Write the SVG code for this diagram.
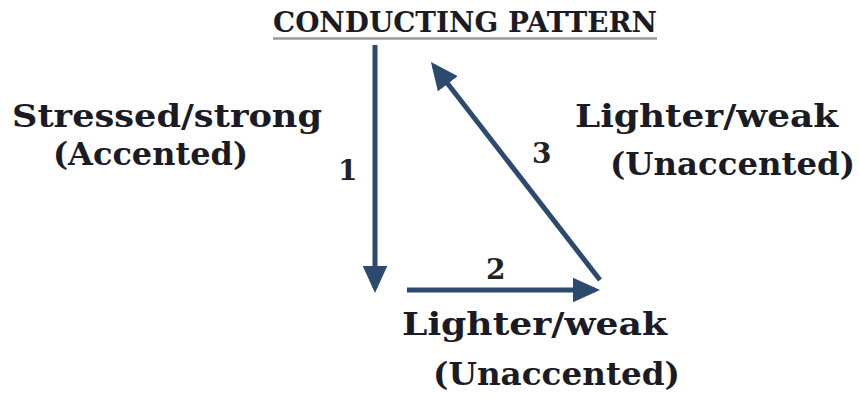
<svg xmlns="http://www.w3.org/2000/svg" width="859" height="396" viewBox="0 0 859 396">
<style>
.t{font-family:"DejaVu Serif","Liberation Serif",serif;font-weight:bold;fill:#1b1b26;}
.lbl{font-size:32px;}
.num{font-size:28px;font-family:"DejaVu Serif","Liberation Serif",serif;font-weight:bold;fill:#222;}
.ar{stroke:#2c4a6e;stroke-width:5;fill:none;}
</style>
<defs>
<marker id="ah" markerWidth="5.5" markerHeight="5" refX="4.5" refY="2.5" orient="auto" markerUnits="strokeWidth">
<path d="M0,0 L5.5,2.5 L0,5 Z" fill="#2c4a6e"/>
</marker>
</defs>
<rect width="859" height="396" fill="#ffffff"/>
<g id="title">
<text class="t" x="273" y="32" font-size="27" textLength="384" lengthAdjust="spacingAndGlyphs">CONDUCTING PATTERN</text>
<line x1="273" y1="38.5" x2="657" y2="38.5" stroke="#9a9a9a" stroke-width="2.5"/>
</g>
<g id="connectors">
<line class="ar" x1="375" y1="45" x2="375" y2="288" marker-end="url(#ah)"/>
<line class="ar" x1="407" y1="290" x2="595" y2="290" marker-end="url(#ah)"/>
<line class="ar" x1="600" y1="280" x2="434" y2="66" marker-end="url(#ah)"/>
<text class="num" x="338" y="180">1</text>
<text class="num" x="486" y="279">2</text>
<text class="num" x="532" y="163">3</text>
</g>
<g id="node-strong">
<text class="t lbl" x="12" y="127" textLength="310" lengthAdjust="spacingAndGlyphs">Stressed/strong</text>
<text class="t lbl" x="53" y="165" textLength="195" lengthAdjust="spacingAndGlyphs">(Accented)</text>
</g>
<g id="node-weak-right">
<text class="t lbl" x="575" y="127" textLength="263" lengthAdjust="spacingAndGlyphs">Lighter/weak</text>
<text class="t lbl" x="610" y="175" textLength="245" lengthAdjust="spacingAndGlyphs">(Unaccented)</text>
</g>
<g id="node-weak-bottom">
<text class="t lbl" x="402" y="335" textLength="265" lengthAdjust="spacingAndGlyphs">Lighter/weak</text>
<text class="t lbl" x="433" y="385" textLength="247" lengthAdjust="spacingAndGlyphs">(Unaccented)</text>
</g>
</svg>
